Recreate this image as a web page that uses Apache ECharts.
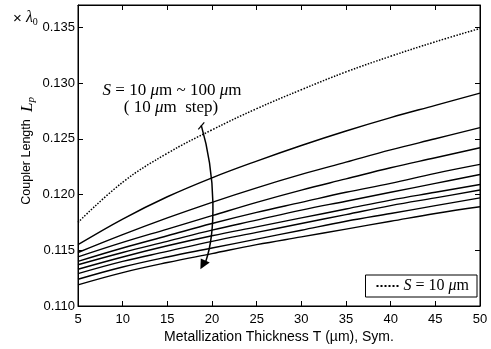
<!DOCTYPE html>
<html>
<head>
<meta charset="utf-8">
<script src="https://cdn.jsdelivr.net/npm/echarts@6/dist/echarts.min.js"></script>
<style>
  html, body { margin: 0; padding: 0; background: #fff; }
  #chart { width: 491px; height: 349px; }
</style>
</head>
<body>
<div id="chart"></div>
<script>
// metallization thickness T (um)
const thickness = [5, 10, 15, 20, 25, 30, 35, 40, 45, 50]

// S = 10 um (dotted)
const s10 = [0.1175, 0.1211, 0.1237, 0.1258, 0.1277, 0.1294, 0.1310, 0.1324, 0.1337, 0.1349]

// S = 20 .. 100 um (solid)
const s20 = [0.1155, 0.1178, 0.1198, 0.1215, 0.1230, 0.1244, 0.1257, 0.1269, 0.1280, 0.1291]
const s30 = [0.1148, 0.1164, 0.1179, 0.1193, 0.1206, 0.1218, 0.1229, 0.1240, 0.1250, 0.1260]
const s40 = [0.1144, 0.1157, 0.1169, 0.1181, 0.1193, 0.1204, 0.1214, 0.1224, 0.1233, 0.1242]
const s50 = [0.1140, 0.1152, 0.1163, 0.1174, 0.1184, 0.1193, 0.1202, 0.1210, 0.1219, 0.1227]
const s60 = [0.1137, 0.1148, 0.1158, 0.1168, 0.1177, 0.1186, 0.1194, 0.1202, 0.1210, 0.1218]
const s70 = [0.1133, 0.1144, 0.1154, 0.1163, 0.1171, 0.1179, 0.1187, 0.1195, 0.1202, 0.1209]
const s80 = [0.1129, 0.1140, 0.1149, 0.1158, 0.1166, 0.1174, 0.1182, 0.1190, 0.1197, 0.1204]
const s90 = [0.1124, 0.1135, 0.1144, 0.1152, 0.1160, 0.1168, 0.1176, 0.1183, 0.1190, 0.1197]
const s100 = [0.1119, 0.1130, 0.1139, 0.1147, 0.1155, 0.1162, 0.1169, 0.1176, 0.1183, 0.1189]

const solidSeries = [s20, s30, s40, s50, s60, s70, s80, s90, s100]

const SANS = 'Liberation Sans'
const SERIF = 'Liberation Serif'

const pairs = (ys) => thickness.map((t, i) => [t, ys[i]])

const axisCommon = {
  axisLine: { show: true, lineStyle: { color: '#000', width: 1 } },
  axisTick: { show: true, inside: true, length: 5, lineStyle: { color: '#000' } },
  splitLine: { show: false },
}

const italic = { fontStyle: 'italic', fontFamily: SERIF, fontSize: 17 }
const roman = { fontFamily: SERIF, fontSize: 17 }

const option = {
  animation: false,
  backgroundColor: '#fff',
  grid: {
    left: 78, right: 11, top: 5, bottom: 43,
    outerBoundsMode: 'none', containLabel: false,
    show: true, borderColor: '#000', borderWidth: 1,
  },
  xAxis: [
    {
      ...axisCommon,
      type: 'value', min: 5, max: 50, interval: 5,
      axisLabel: { color: '#000', fontFamily: SANS, fontSize: 13, margin: 7 },
      name: 'Metallization Thickness T (\u00b5m), Sym.',
      nameLocation: 'middle', nameGap: 24, nameMoveOverlap: false,
      nameTextStyle: { color: '#000', fontFamily: SANS, fontSize: 14 },
    },
    {
      ...axisCommon,
      type: 'value', min: 5, max: 50, interval: 5, position: 'top',
      axisLabel: { show: false },
    },
  ],
  yAxis: [
    {
      ...axisCommon,
      type: 'value', min: 0.110, max: 0.137, interval: 0.005,
      axisLabel: {
        color: '#000', fontFamily: SANS, fontSize: 13, margin: 3,
        showMaxLabel: false,
        formatter: (v) => v.toFixed(3),
      },
    },
    {
      ...axisCommon,
      type: 'value', min: 0.110, max: 0.137, interval: 0.005, position: 'right',
      axisLabel: { show: false },
    },
  ],
  legend: {
    right: 14, bottom: 52,
    orient: 'vertical',
    data: ['S10'],
    backgroundColor: '#fff',
    borderColor: '#000', borderWidth: 1,
    padding: [3, 8, 3, 10],
    itemWidth: 22, itemHeight: 10, itemGap: 6,
    itemStyle: { opacity: 0 },
    formatter: () => '{i|S}{r| = 10 }{i|\u03bc}{r|m}',
    textStyle: {
      color: '#000', fontFamily: SERIF, fontSize: 16,
      rich: { i: { ...italic, fontSize: 16 }, r: { ...roman, fontSize: 16 } },
    },
  },
  series: [
    {
      name: 'S10', type: 'line', data: pairs(s10),
      showSymbol: false, symbol: 'none', smooth: 0.4,
      lineStyle: { color: '#000', width: 1.5, type: 'dotted' },
      itemStyle: { color: '#000' },
    },
    ...solidSeries.map((ys, k) => ({
      name: 'S' + (20 + 10 * k), type: 'line', data: pairs(ys),
      showSymbol: false, symbol: 'none', smooth: 0.4,
      lineStyle: { color: '#000', width: 1.4 },
    })),
  ],
}

const chart = echarts.init(document.getElementById('chart'), null, { renderer: 'canvas' })
chart.setOption(option)

// annotation arrow, placed in data coordinates
const px = (t, v) => chart.convertToPixel({ xAxisIndex: 0, yAxisIndex: 0 }, [t, v])
const p0 = px(18.8, 0.1262)
const c1 = px(20.5, 0.1215)
const c2 = px(20.4, 0.1165)
const p1 = px(19.3, 0.1140)
const tip = px(18.7, 0.1133)

chart.setOption({
  graphic: [
    {
      type: 'text', x: 27, y: 162, rotation: Math.PI / 2,
      style: {
        text: 'Coupler Length', fill: '#000',
        fontFamily: SANS, fontSize: 12.5,
        align: 'center', verticalAlign: 'middle',
      },
    },
    {
      type: 'text', x: 172, y: 91,
      style: {
        text: '{i|S}{r| = 10 }{i|\u03bc}{r|m ~ 100 }{i|\u03bc}{r|m}',
        fill: '#000', align: 'center', verticalAlign: 'middle',
        rich: { i: italic, r: roman },
      },
    },
    {
      type: 'text', x: 171, y: 108,
      style: {
        text: '{r|( 10 }{i|\u03bc}{r|m  step)}',
        fill: '#000', align: 'center', verticalAlign: 'middle',
        rich: { i: italic, r: roman },
      },
    },
    {
      type: 'text', x: 13, y: 9,
      style: {
        text: '{x|\u00d7 }{i|\u03bb}{s|0}',
        fill: '#000',
        rich: {
          x: { fontFamily: SANS, fontSize: 15, padding: [2, 0, 0, 0] },
          i: { ...italic, fontSize: 16 },
          s: { fontFamily: SERIF, fontSize: 10, padding: [8, 0, 0, 0] },
        },
      },
    },
    {
      type: 'text', x: 18, y: 112, rotation: Math.PI / 2,
      style: {
        text: '{i|L}{s|p}',
        fill: '#000',
        rich: {
          i: { ...italic, fontSize: 17 },
          s: { ...italic, fontSize: 11, padding: [8, 0, 0, 0] },
        },
      },
    },
    {
      type: 'bezierCurve', z: 100,
      shape: { x1: p0[0], y1: p0[1], cpx1: c1[0], cpy1: c1[1], cpx2: c2[0], cpy2: c2[1], x2: p1[0], y2: p1[1] },
      style: { stroke: '#000', lineWidth: 1.5, fill: null },
    },
    {
      type: 'line', z: 100,
      shape: { x1: p0[0] - 3, y1: p0[1] + 4, x2: p0[0] + 3, y2: p0[1] - 3 },
      style: { stroke: '#000', lineWidth: 1.2 },
    },
    {
      type: 'polygon', z: 100,
      shape: { points: [[tip[0], tip[1]], [p1[0] - 5, p1[1] - 3], [p1[0] + 4, p1[1] + 1]] },
      style: { fill: '#000' },
    },
  ],
})
</script>
</body>
</html>
